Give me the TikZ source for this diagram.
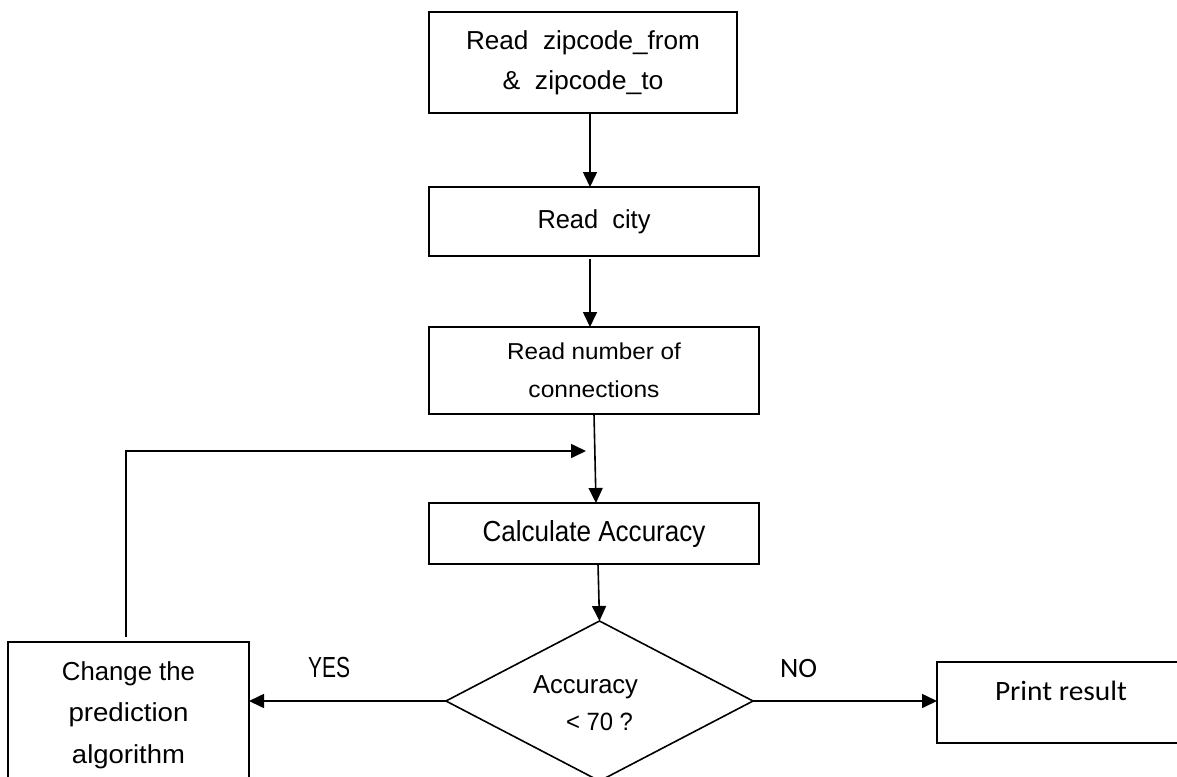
\documentclass[tikz,border=0pt]{standalone}
\usepackage{fontspec}
\setmainfont{Liberation Sans}
\newfontfamily\calfont{Carlito}
\usetikzlibrary{shapes.geometric,arrows.meta}
\newcommand{\fitw}[3]{{\fontsize{#1}{#1}\selectfont\resizebox{#2pt}{\height}{#3}}}
\begin{document}
\begin{tikzpicture}[x=1pt,y=-1pt,
  box/.style={draw,line width=1.8pt,inner sep=0pt,outer sep=0pt,align=center},
  arr/.style={line width=1.6pt,-{Triangle[length=15pt,width=14pt]}},
  lbl/.style={inner sep=0pt,outer sep=0pt,anchor=base}]
\useasboundingbox (0,0) rectangle (1177,776);
\fill[white] (0,0) rectangle (1177,776);
\clip (0,0) rectangle (1177,776);
\node[box,minimum width=308pt,minimum height=101pt,font=\fontsize{26}{40}\selectfont] (b1) at (583,62.5)
  {\fitw{26}{234}{Read~~zipcode\_from}\\\fitw{26}{161}{\&~~zipcode\_to}};
\node[box,minimum width=330pt,minimum height=69pt] (b2) at (594,221.5)
  {\fitw{26}{113}{Read~~city}};
\node[box,minimum width=330pt,minimum height=87pt,font=\fontsize{23}{38}\selectfont] (b3) at (594,370.5)
  {\fitw{23}{174}{Read number of}\\\fitw{23}{131}{connections}};
\node[box,minimum width=330pt,minimum height=61pt] (b4) at (594,533.5)
  {\fitw{29}{223}{Calculate Accuracy}};
\node[draw,diamond,line width=1.6pt,inner sep=0pt,outer sep=0pt,minimum width=307pt,minimum height=160pt] (d) at (599.5,701) {};
\node[lbl] (dt1) at (585.5,693) {\fitw{26}{105}{Accuracy}};
\node[lbl] (dt2) at (599.5,730) {\fitw{25}{67}{< 70 ?}};
\node[box,minimum width=241pt,minimum height=146pt,font=\fontsize{26}{41.5}\selectfont] (lb) at (128.5,715)
  {\fitw{26}{133}{Change the}\\\fitw{26}{120}{prediction}\\\fitw{26}{113}{algorithm}};
\node[box,minimum width=253pt,minimum height=81pt] (rb) at (1063.5,702.5) {};
\node[lbl] (rbt) at (1061,700) {\calfont\fitw{28}{132}{Print result}};
\node[lbl] (yes) at (329,677) {\fitw{29}{42}{YES}};
\node[lbl] (no) at (798.5,677) {\calfont\fitw{28}{37}{NO}};
\coordinate (fb) at (586,451);
\draw[arr] ([xshift=7pt]b1.south) -- ([xshift=-4pt]b2.north);
\draw[arr] ([shift={(-4,3)}]b2.south) -- ([xshift=-4pt]b3.north);
\draw[arr] (b3.south) -- ([xshift=2pt]b4.north);
\draw[arr] ([xshift=4pt]b4.south) -- (d.north);
\draw[arr] (d.west) -- (d.west -| lb.east);
\draw[arr] (d.east) -- (d.east -| rb.west);
\draw[arr] ([shift={(-2.5,-5)}]lb.north) |- (fb);
\end{tikzpicture}
\end{document}
